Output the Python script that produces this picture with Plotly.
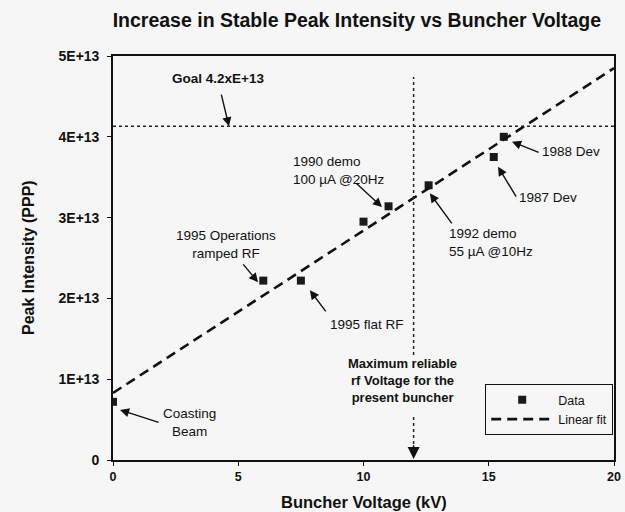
import plotly.graph_objects as go

# ---- data ----
data_kv = [0.0, 6.0, 7.5, 10.0, 11.0, 12.6, 15.2, 15.6]
data_ppp = [0.72e13, 2.22e13, 2.22e13, 2.95e13, 3.14e13, 3.40e13, 3.75e13, 4.00e13]

fit_kv = [0.0, 20.0]
fit_ppp = [0.83e13, 4.85e13]

goal_ppp = 4.13e13
max_kv = 12.0

x_ticks = [0, 5, 10, 15, 20]
y_ticks = [0, 1e13, 2e13, 3e13, 4e13, 5e13]
y_ticklabels = ["0", "1E+13", "2E+13", "3E+13", "4E+13", "5E+13"]

FONT = "Liberation Sans, Arial, sans-serif"
BG = "#f6f6f6"
INK = "#111111"

fig = go.Figure()
fig.add_trace(go.Scatter(
    x=data_kv, y=data_ppp, mode="markers", name="Data",
    marker=dict(symbol="square", size=8, color="#1a1a1a"),
))
fig.add_trace(go.Scatter(
    x=fit_kv, y=fit_ppp, mode="lines", name="Linear fit",
    line=dict(color=INK, width=2.6, dash="10px,6px"),
))

# goal line
fig.add_shape(type="line", xref="x", yref="y", x0=0, x1=20, y0=goal_ppp, y1=goal_ppp,
              line=dict(color="#222", width=1.5, dash="dot"))
# vertical "maximum reliable" line (upper and lower parts)
fig.add_shape(type="line", xref="x", yref="y", x0=max_kv, x1=max_kv, y0=1.30e13, y1=4.74e13,
              line=dict(color="#222", width=1.5, dash="dot"))
fig.add_shape(type="line", xref="x", yref="y", x0=max_kv, x1=max_kv, y0=0.05e13, y1=0.56e13,
              line=dict(color="#222", width=1.5, dash="dot"))

anns = []

def arrow(tx, ty, hx, hy):
    anns.append(dict(x=hx, y=hy, ax=tx, ay=ty, xref="x", yref="y", axref="x", ayref="y",
                     text="", showarrow=True, arrowhead=2, arrowsize=1.3, arrowwidth=1.4,
                     arrowcolor=INK))

def label(x, y, text, align="left", size=13.5, xanchor="left"):
    anns.append(dict(x=x, y=y, xref="x", yref="y", text=text, showarrow=False,
                     xanchor=xanchor, yanchor="middle", align=align,
                     font=dict(family=FONT, size=size, color=INK)))

# Goal
label(4.19, 4.72e13, "<b>Goal 4.2xE+13</b>", size=13.5, xanchor="center", align="center")
arrow(4.31, 4.54e13, 4.63, goal_ppp)
# 1990 demo
label(7.1, 3.58e13, "1990 demo<br>100 µA @20Hz")
arrow(9.66, 3.44e13, data_kv[4] - 0.26, data_ppp[4] - 0.01e13)
# 1988 Dev
label(17.05, 3.82e13, "1988 Dev")
arrow(17.05, 3.80e13, data_kv[7] + 0.33, data_ppp[7] - 0.06e13)
# 1987 Dev
label(16.13, 3.25e13, "1987 Dev")
arrow(16.13, 3.24e13, data_kv[6] + 0.17, data_ppp[6] - 0.12e13)
# 1992 demo
label(13.33, 2.69e13, "1992 demo<br>55 µA @10Hz")
arrow(13.57, 2.91e13, data_kv[5] + 0.05, data_ppp[5] - 0.10e13)
# 1995 Operations ramped RF
label(4.53, 2.67e13, "1995 Operations<br>ramped RF", xanchor="center", align="center")
arrow(5.15, 2.44e13, data_kv[1] - 0.21, data_ppp[1] - 0.02e13)
# 1995 flat RF
label(8.58, 1.68e13, "1995 flat RF")
arrow(8.54, 1.82e13, data_kv[2] + 0.36, data_ppp[2] - 0.12e13)
# Maximum reliable
label(11.55, 0.99e13, "<b>Maximum reliable<br>rf Voltage for the<br>present buncher</b>",
      size=13, xanchor="center", align="center")
anns.append(dict(x=max_kv, y=0.0, ax=max_kv, ay=0.2e13, xref="x", yref="y", axref="x", ayref="y",
                 text="", showarrow=True, arrowhead=2, arrowsize=1.6, arrowwidth=1.5,
                 arrowcolor=INK, standoff=1))
# Coasting Beam
label(3.05, 0.47e13, "Coasting<br>Beam", xanchor="center", align="center")
arrow(1.88, 0.46e13, data_kv[0] + 0.28, data_ppp[0] - 0.10e13)

# axis titles
anns.append(dict(x=0.5, y=-0.104, xref="paper", yref="paper", showarrow=False,
                 text="<b>Buncher Voltage (kV)</b>", xanchor="center", yanchor="middle",
                 font=dict(family=FONT, size=16.5, color=INK)))
anns.append(dict(x=-0.170, y=0.502, xref="paper", yref="paper", showarrow=False,
                 text="<b>Peak Intensity (PPP)</b>", xanchor="center", yanchor="middle",
                 textangle=-90, font=dict(family=FONT, size=16, color=INK)))

fig.update_layout(
    width=625, height=512,
    margin=dict(l=113, r=11, t=56, b=52),
    paper_bgcolor=BG, plot_bgcolor=BG,
    font=dict(family=FONT, color=INK),
    title=dict(text="<b>Increase in Stable Peak Intensity vs Buncher Voltage</b>",
               x=0.571, xanchor="center", y=1 - 20 / 512, yanchor="middle",
               yref="container", font=dict(family=FONT, size=19.5, color=INK)),
    xaxis=dict(range=[0, 20], tickvals=x_ticks, ticktext=[str(t) for t in x_ticks],
               showgrid=False, zeroline=False, showline=True, mirror=True,
               linecolor=INK, linewidth=1.6, ticks="outside", ticklen=4,
               tickcolor=INK, tickwidth=1.4, automargin=False,
               tickfont=dict(family=FONT, size=12.5, color=INK, weight="bold")),
    yaxis=dict(range=[0, 5e13], tickvals=y_ticks, ticktext=y_ticklabels,
               showgrid=False, zeroline=False, showline=True, mirror=True,
               linecolor=INK, linewidth=1.6, ticks="outside", ticklen=4,
               tickcolor=INK, tickwidth=1.4, automargin=False, ticklabelstandoff=5,
               tickfont=dict(family=FONT, size=14, color=INK, weight="bold")),
    legend=dict(x=0.998, xanchor="right", y=0.188, yanchor="top",
                bgcolor=BG, bordercolor=INK, borderwidth=1.2,
                font=dict(family=FONT, size=12.5, color=INK),
                tracegroupgap=0, itemwidth=62),
    annotations=anns,
    showlegend=True,
)
fig.write_html("out.html", config={"displayModeBar": False},
               post_script="document.body.style.margin='0';")
